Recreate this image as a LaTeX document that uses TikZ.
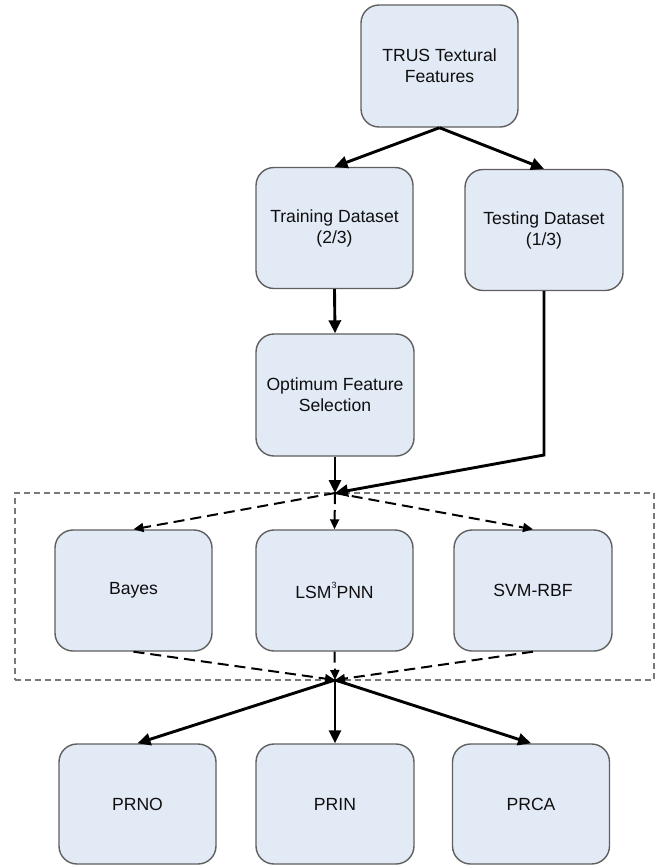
\documentclass[tikz,border=0pt]{standalone}
\usepackage{fontspec}
\setmainfont{Liberation Sans}
\usetikzlibrary{arrows.meta}
\definecolor{boxfill}{RGB}{226,234,246}
\definecolor{boxline}{RGB}{95,95,95}
\definecolor{dashline}{RGB}{120,120,120}
\definecolor{txt}{RGB}{15,15,15}
\begin{document}
\begin{tikzpicture}[x=1pt,y=-1pt,
  box/.style={draw=boxline, line width=1.4pt, fill=boxfill, rounded corners=18pt,
    minimum width=157pt, minimum height=121pt, inner sep=0pt, align=center,
    text=txt, font=\fontsize{17.6}{21}\selectfont},
  sarrow/.style={line width=2.9pt, -{Triangle[length=13pt,width=12pt]}},
  darrow/.style={line width=2pt, dash pattern=on 11pt off 6pt, -{Triangle[length=10pt,width=9pt]}},
  frame/.style={draw=dashline, line width=1.5pt, dash pattern=on 6pt off 4pt, inner sep=0pt}]
\useasboundingbox (0,0) rectangle (657,865);

\node[frame, minimum width=639pt, minimum height=187pt] (grp) at (334.5,586.5) {};

\node[box, minimum height=122pt] (trus) at (439.5,66) {TRUS Textural\\Features};
\node[box] (train) at (334.5,228) {Training Dataset\\(2/3)};
\node[box, minimum width=158pt] (test) at (544,230) {Testing Dataset\\(1/3)};
\node[box, minimum width=158pt, minimum height=122pt] (opt) at (335,395) {Optimum Feature\\Selection};

\node[box] (bayes) at (133.5,590.5) {Bayes};
\node[box] (lsm) at (334.5,590.5) {LSM\raisebox{0.55em}{\fontsize{9}{9}\selectfont 3}PNN};
\node[box, minimum width=158pt] (svm) at (533,590.5) {SVM-RBF};

\node[box, minimum height=120pt] (prno) at (137.5,804) {PRNO};
\node[box, minimum width=158pt, minimum height=120pt] (prin) at (335,804) {PRIN};
\node[box, minimum height=120pt] (prca) at (531,804) {PRCA};

\coordinate (j1) at (335,493);
\coordinate (j2) at (335,680);
\coordinate (tk) at (544,455);

\draw[sarrow] (trus.south) -- (train.north);
\draw[sarrow] (trus.south) -- (test.north);
\draw[sarrow] (train.south) -- (opt.north);
\draw[sarrow] (opt.south) -- (j1);
\draw[sarrow] (test.south) -- (tk) -- (j1);

\draw[darrow] (j1) -- (bayes.north);
\draw[darrow] (j1) -- (lsm.north);
\draw[darrow] (j1) -- (svm.north);

\draw[darrow] (bayes.south) -- (j2);
\draw[darrow] (lsm.south) -- (j2);
\draw[darrow] (svm.south) -- (j2);

\draw[sarrow] (j2) -- (prno.north);
\draw[sarrow] (j2) -- (prin.north);
\draw[sarrow] (j2) -- (prca.north);
\end{tikzpicture}
\end{document}
